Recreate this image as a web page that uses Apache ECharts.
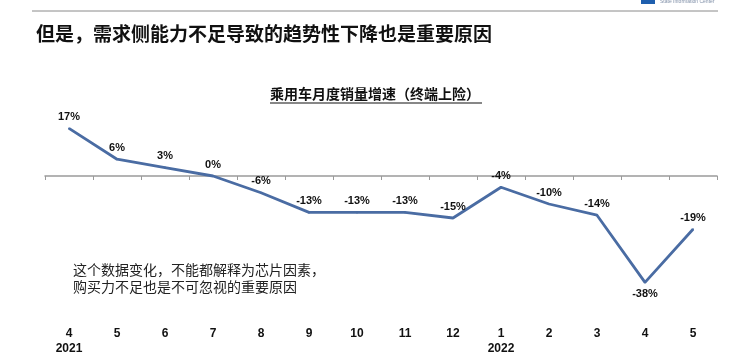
<!DOCTYPE html>
<html>
<head>
<meta charset="utf-8">
<script src="https://cdn.jsdelivr.net/npm/echarts@6/dist/echarts.min.js"></script>
<style>html,body{margin:0;padding:0;background:#fff;}#c{width:752px;height:363px;}</style>
</head>
<body>
<div id="c"></div>
<script>
const months = ["4","5","6","7","8","9","10","11","12","1","2","3","4","5"];
const years = ["2021","","","","","","","","","2022","","","",""];
const growth = [17, 6, 3, 0, -6, -13, -13, -13, -15, -4, -10, -14, -38, -19];
const titleText = "但是，需求侧能力不足导致的趋势性下降也是重要原因";
const subTitleText = "乘用车月度销量增速（终端上险）";
const noteLines = ["这个数据变化，不能都解释为芯片因素，", "购买力不足也是不可忽视的重要原因"];

const cjk = '"Noto Sans CJK SC", "Liberation Sans", Arial, sans-serif';
const latin = '"Liberation Sans", Arial, sans-serif';
const xLabels = months.map((m, i) => years[i] ? m + "\n" + years[i] : m);

const chart = echarts.init(document.getElementById('c'), null, {renderer: 'canvas'});
chart.setOption({
  animation: false,
  backgroundColor: '#fff',
  grid: {left: 45, right: 35, top: 120, bottom: 75},
  xAxis: [
    {
      type: 'category', data: xLabels, position: 'bottom', boundaryGap: true,
      axisLine: {show: false, onZero: false}, axisTick: {show: false},
      axisLabel: {margin: 38, color: '#111', fontFamily: latin, fontWeight: 'bold', fontSize: 12, lineHeight: 15, interval: 0}
    },
    {
      type: 'category', data: months, position: 'top', boundaryGap: true,
      axisLine: {show: true, onZero: true, lineStyle: {color: '#9a9a9a', width: 1.5}},
      axisTick: {show: true, inside: true, length: 4, alignWithLabel: false, interval: 0, lineStyle: {color: '#9a9a9a'}},
      axisLabel: {show: false}
    }
  ],
  yAxis: {
    type: 'value', min: -40, max: 20, show: false,
    splitLine: {show: false}
  },
  series: [{
    type: 'line', xAxisIndex: 0, data: growth.map((v, i) => ({
      value: v,
      label: {position: v === -38 ? 'bottom' : 'top'}
    })),
    symbol: 'circle', symbolSize: 2, showSymbol: true, smooth: false,
    itemStyle: {color: '#4a6ca3'},
    lineStyle: {color: '#4a6ca3', width: 2.8},
    label: {
      show: true, formatter: p => p.value + '%', distance: 5,
      color: '#111', fontFamily: latin, fontWeight: 'bold', fontSize: 11
    }
  }],
  graphic: [
    {type: 'line', shape: {x1: 32, y1: 11, x2: 718, y2: 11}, style: {stroke: '#8a8a8a', lineWidth: 1}},
    {type: 'rect', shape: {x: 641, y: 0, width: 14, height: 4}, style: {fill: '#1f5fae'}},
    {type: 'text', left: 660, top: -1, style: {text: 'State Information Center', fontSize: 5, fill: '#8090a8', fontFamily: latin}},
    {type: 'text', left: 36, top: 24, style: {text: titleText, fontSize: 19, fontWeight: 'bold', fill: '#111', fontFamily: cjk}},
    {type: 'text', left: 270, top: 87, style: {text: subTitleText, fontSize: 14, fontWeight: 'bold', fill: '#111', fontFamily: cjk}},
    {type: 'line', shape: {x1: 270, y1: 103, x2: 482, y2: 103}, style: {stroke: '#111', lineWidth: 1.2}},
    {type: 'text', left: 73, top: 261, style: {text: noteLines.join('\n'), fontSize: 14, lineHeight: 17, fill: '#222', fontFamily: cjk}}
  ]
});
</script>
</body>
</html>
